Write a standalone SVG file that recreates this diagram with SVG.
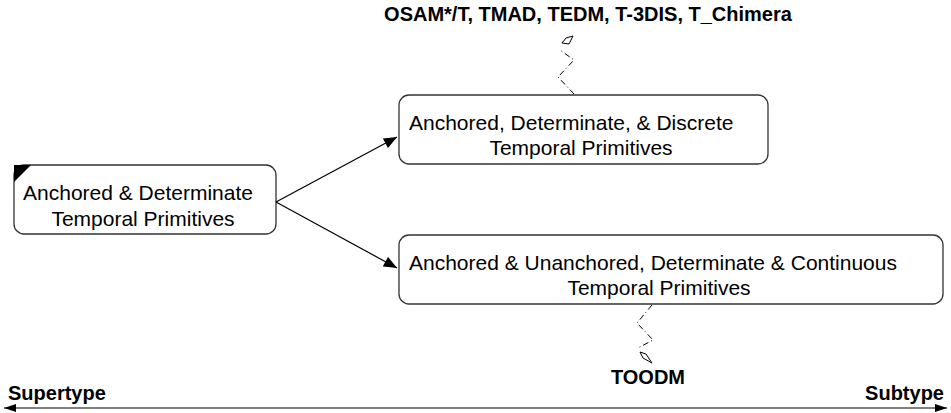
<svg xmlns="http://www.w3.org/2000/svg" width="951" height="413" viewBox="0 0 951 413">
  <defs>
    <marker id="solidHead" viewBox="0 0 12 10" refX="12" refY="5" markerWidth="14" markerHeight="11" markerUnits="userSpaceOnUse" orient="auto">
      <path d="M0,0 L12,5 L0,10 Z" fill="#000"/>
    </marker>
    <marker id="axisHead" viewBox="0 0 12 8" refX="12" refY="4" markerWidth="12" markerHeight="8" markerUnits="userSpaceOnUse" orient="auto-start-reverse">
      <path d="M0,0 L12,4 L0,8 Z" fill="#000"/>
    </marker>
  </defs>
  <style>
    .box { fill: #fff; stroke: #333; stroke-width: 1.3; }
    .label { font-family: "Liberation Sans", Arial, sans-serif; font-size: 21px; fill: #000; }
    .bold { font-family: "Liberation Sans", Arial, sans-serif; font-size: 20px; font-weight: bold; fill: #000; }
    .edge { fill: none; stroke: #000; stroke-width: 1.2; }
    .wiggle { fill: none; stroke: #000; stroke-width: 1; stroke-dasharray: 6 3 1 3; }
    .kite { fill: #fff; stroke: #000; stroke-width: 1; }
  </style>

  <rect width="951" height="413" fill="#fff"/>

  <g id="node-anchored-determinate">
    <rect class="box" x="14" y="165" width="262" height="69" rx="10"/>
    <path d="M14,165 L31,165 L14,182 Z" fill="#000"/>
    <text class="label" x="138" y="200" text-anchor="middle">Anchored &amp; Determinate</text>
    <text class="label" x="143" y="226" text-anchor="middle">Temporal Primitives</text>
  </g>

  <g id="node-discrete">
    <rect class="box" x="399" y="95" width="369" height="69" rx="10"/>
    <text class="label" x="409" y="130">Anchored, Determinate, &amp; Discrete</text>
    <text class="label" x="581" y="155" text-anchor="middle">Temporal Primitives</text>
  </g>

  <g id="node-continuous">
    <rect class="box" x="399" y="235" width="544" height="69" rx="10"/>
    <text class="label" x="409" y="270">Anchored &amp; Unanchored, Determinate &amp; Continuous</text>
    <text class="label" x="659" y="295" text-anchor="middle">Temporal Primitives</text>
  </g>

  <g id="connectors">
    <path class="edge" d="M276,202 L397,137" marker-end="url(#solidHead)"/>
    <path class="edge" d="M276,202 L397,268" marker-end="url(#solidHead)"/>
    <!-- models linked to the discrete primitives -->
    <path class="wiggle" d="M574,94 L558,77 L574,60 L560,50"/>
    <path class="kite" d="M573,36 L569,44 L562,43 L566,38 Z"/>
    <!-- model linked to the continuous primitives -->
    <path class="wiggle" d="M652,305 L637,323 L653,340 L638,348"/>
    <path class="kite" d="M652,363 L643,358 L640,352 L646,354 Z"/>
    <!-- supertype / subtype axis -->
    <path class="edge" d="M4,408 L947,408" marker-start="url(#axisHead)" marker-end="url(#axisHead)"/>
  </g>

  <g id="annotations">
    <text class="bold" x="588" y="21" text-anchor="middle">OSAM*/T, TMAD, TEDM, T-3DIS, T_Chimera</text>
    <text class="bold" x="648" y="384" text-anchor="middle">TOODM</text>
    <text class="bold" x="8" y="400">Supertype</text>
    <text class="bold" x="944" y="400" text-anchor="end">Subtype</text>
  </g>
</svg>
